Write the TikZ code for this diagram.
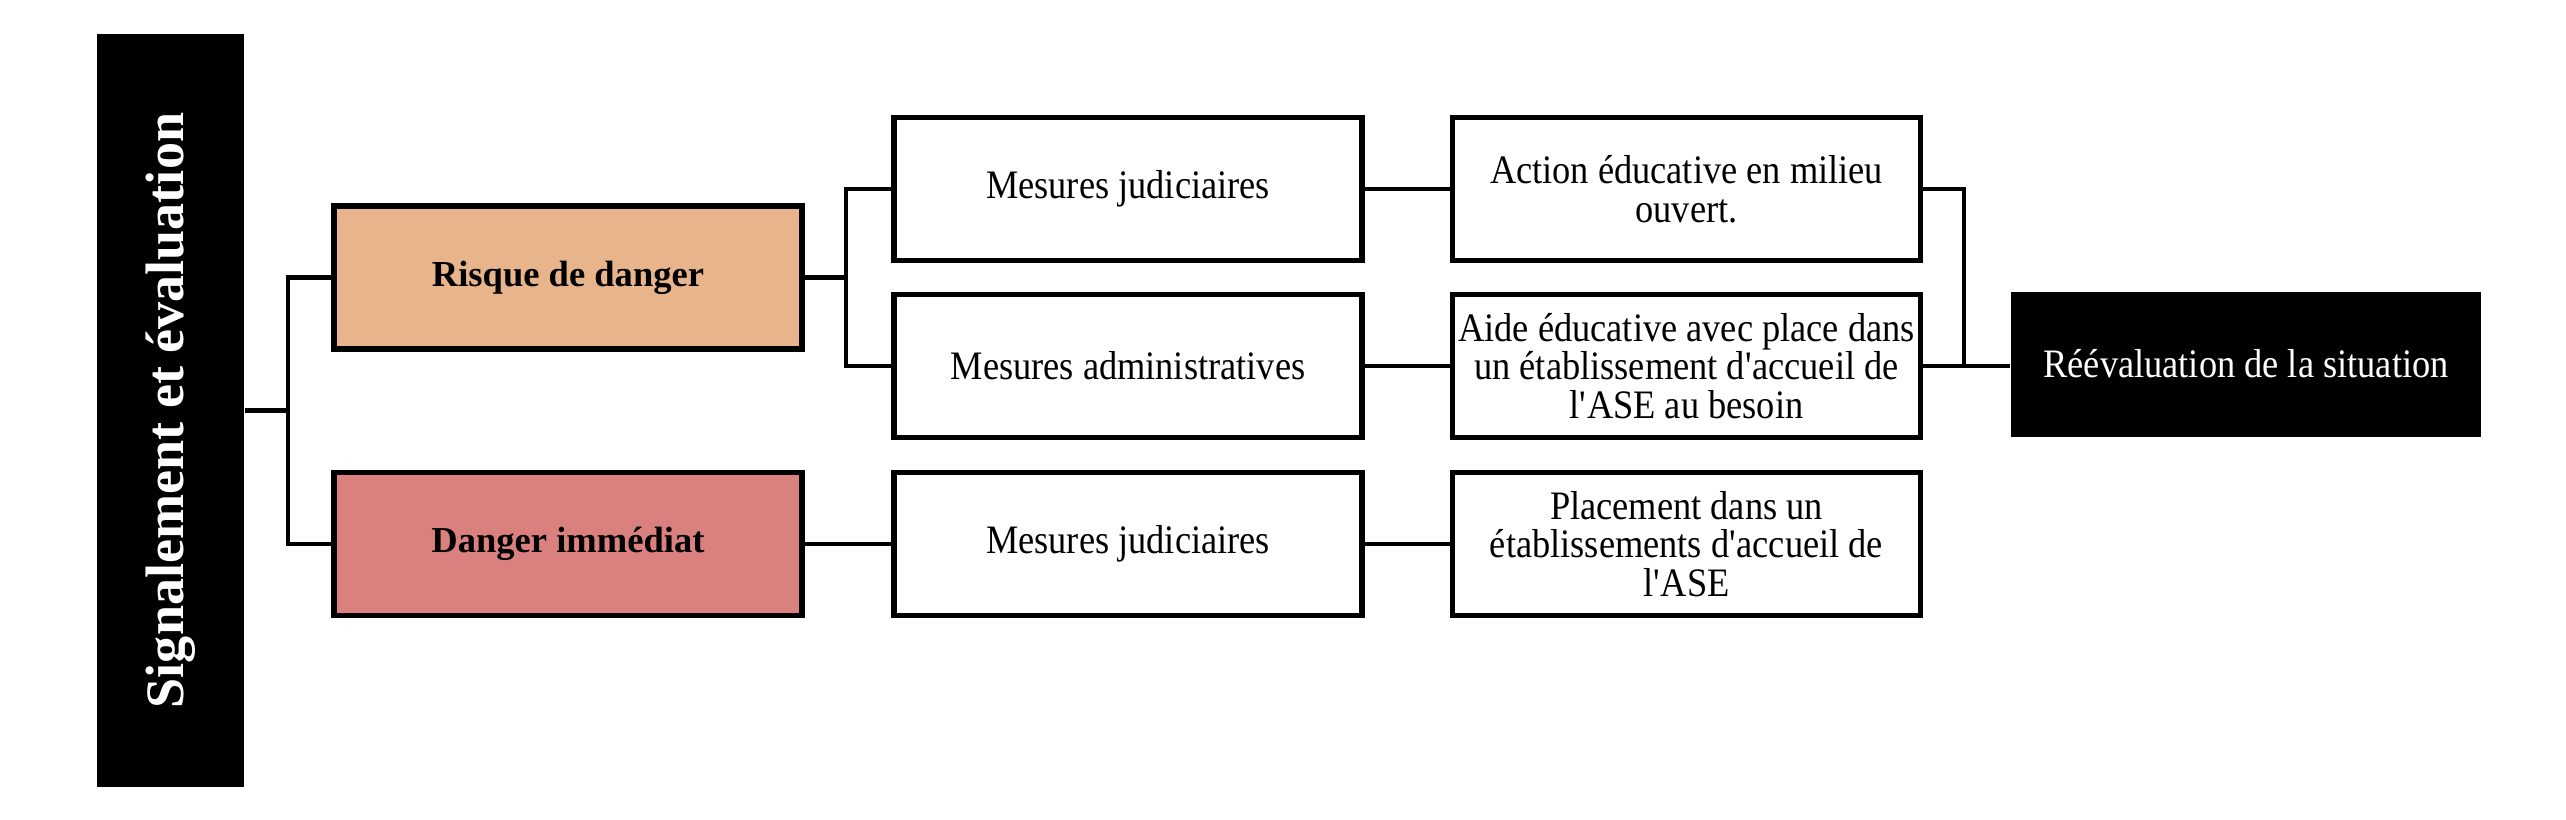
\documentclass[tikz,border=0pt]{standalone}
\usepackage{fontspec}
\setmainfont{Liberation Serif}
\newfontfamily\narrowserif{Liberation Serif}[FakeStretch=0.9]
\usepackage{graphicx}
\usepackage{tikz}
\usetikzlibrary{positioning}
\definecolor{riskorange}{RGB}{232,180,139}
\definecolor{dangerred}{RGB}{218,128,126}
\tikzset{
  mainbox/.style={draw=black,line width=1.6pt,minimum width=4.68cm,minimum height=1.43cm,inner sep=1pt,align=center,font=\fontsize{11.5}{11}\selectfont\narrowserif},
  levelbox/.style={mainbox,font=\fontsize{10.4}{12}\selectfont\bfseries},
  darkbox/.style={fill=black,text=white,inner sep=0pt,align=center},
  link/.style={line width=1.3pt,draw=black},
}

\begin{document}
\begin{tikzpicture}
  \useasboundingbox (0,0) rectangle (25.66,8.19);
  % left column
  \node[darkbox,minimum width=1.47cm,minimum height=7.53cm,font=\fontsize{15.4}{18}\selectfont\bfseries] (sig) at (1.705,4.085)
    {\rotatebox{90}{Signalement et évaluation}};
  \node[levelbox,fill=riskorange] (risque) at (5.68,5.415) {Risque de danger};
  \node[levelbox,fill=dangerred]  (danger) at (5.68,2.75)  {Danger immédiat};
  % measures
  \node[mainbox] (mj1) at (11.28,6.30) {Mesures judiciaires};
  \node[mainbox] (ma)  at (11.28,4.53) {Mesures administratives};
  \node[mainbox] (mj2) at (11.28,2.75) {Mesures judiciaires};
  % outcomes
  \node[mainbox] (action)    at (16.865,6.30) {Action éducative en milieu\\ouvert.};
  \node[mainbox] (aide)      at (16.865,4.53) {Aide éducative avec place dans\\un établissement d\textquotesingle accueil de\\l\textquotesingle ASE au besoin};
  \node[mainbox] (placement) at (16.865,2.75) {Placement dans un\\établissements d\textquotesingle accueil de\\l\textquotesingle ASE};
  \node[darkbox,minimum width=4.70cm,minimum height=1.45cm,font=\fontsize{11.5}{11}\selectfont\narrowserif] (reeval) at (22.46,4.55)
    {Réévaluation de la situation};
  % connectors
  \coordinate (split1) at (2.88,4.085);
  \coordinate (split2) at (8.46,5.415);
  \coordinate (merge)  at (19.64,4.53);
  \draw[link] (sig.east) -- (split1);
  \draw[link] (risque.west) -| (split1) |- (danger.west);
  \draw[link] (risque.east) -- (split2);
  \draw[link] (mj1.west) -| (split2) |- (ma.west);
  \draw[link] (danger.east) -- (mj2.west);
  \draw[link] (mj1.east) -- (action.west);
  \draw[link] (ma.east) -- (aide.west);
  \draw[link] (mj2.east) -- (placement.west);
  \draw[link] (action.east) -| (merge);
  \draw[link] (aide.east) -- (merge) -- (merge -| reeval.west);
\end{tikzpicture}
\end{document}
